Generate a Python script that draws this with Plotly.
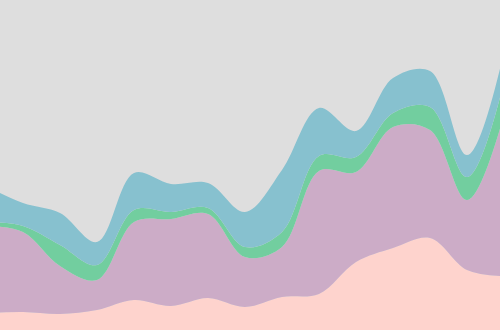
import plotly.graph_objects as go

x = list(range(15))
pink = [17, 18, 16, 20, 30, 24, 32, 23, 33, 36, 68, 82, 92, 60, 54]
purple = [87, 80, 48, 30, 78, 87, 84, 50, 50, 123, 90, 121, 108, 70, 161]
green = [4, 6, 21, 15, 12, 7, 6, 10, 15, 15, 15, 14, 23, 23, 33]
blue = [36, 23, 32, 23, 37, 28, 25, 35, 62, 48, 26, 35, 36, 22, 30]

series = [
    ("A", pink, "#fed3cd"),
    ("B", purple, "#ccacc7"),
    ("C", green, "#72ce9f"),
    ("D", blue, "#87c1cf"),
]

fig = go.Figure()
for name, vals, col in series:
    fig.add_trace(go.Scatter(
        x=x, y=vals, name=name, stackgroup="s", mode="lines",
        line=dict(width=0, shape="spline", smoothing=1, color=col),
        fillcolor=col, hoverinfo="skip",
    ))

fig.update_layout(
    width=500, height=330,
    margin=dict(l=0, r=0, t=0, b=0),
    paper_bgcolor="#dedede", plot_bgcolor="#dedede",
    showlegend=False,
    xaxis=dict(range=[14/37, 514/37], visible=False, showgrid=False, zeroline=False),
    yaxis=dict(range=[0, 330], visible=False, showgrid=False, zeroline=False),
)
fig.write_html("out.html")
